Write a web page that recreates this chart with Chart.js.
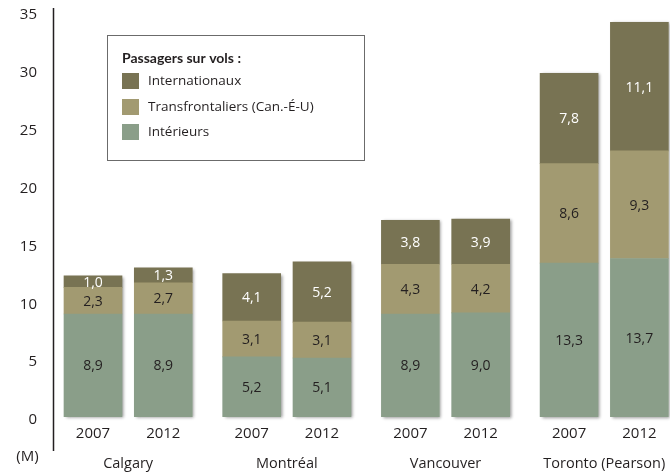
<!DOCTYPE html>
<html lang="fr">
<head>
<meta charset="utf-8">
<title>Passagers aériens par aéroport, 2007 et 2012</title>
<script src="https://cdn.jsdelivr.net/npm/chart.js@4/dist/chart.umd.min.js"></script>
<style>
  html, body { margin: 0; padding: 0; background: #ffffff; }
  #wrap { width: 670px; height: 474px; position: relative; }
</style>
</head>
<body>
<div id="wrap"><canvas id="chart" width="670" height="474"></canvas></div>
<script>
// Aéroports et années
const cities = ['Calgary', 'Montréal', 'Vancouver', 'Toronto (Pearson)'];
const years = ['2007', '2012'];

// Passagers (millions), une valeur par barre : ville × année
const interieurs       = [8.9, 8.9, 5.2, 5.1, 8.9, 9.0, 13.3, 13.7];
const transfrontaliers = [2.3, 2.7, 3.1, 3.1, 4.3, 4.2, 8.6, 9.3];
const internationaux   = [1.0, 1.3, 4.1, 5.2, 3.8, 3.9, 7.8, 11.1];

// Séries, de bas en haut de la pile
const seriesLabels = ['Intérieurs', 'Transfrontaliers (Can.-É-U)', 'Internationaux'];
const seriesValues = [interieurs, transfrontaliers, internationaux];
const seriesColors = ['#8a9e89', '#a29a71', '#787353'];
const seriesText   = ['#231f20', '#231f20', '#ffffff'];

const legendTitle = 'Passagers sur vols :';
const unitLabel = '(M)';

const FONT = '"Open Sans", "Noto Sans", sans-serif';
const INK = '#231f20';

// Position horizontale d'une barre : groupe (ville) et rang dans le groupe (année)
const GROUP_STEP = 2.2575;
const barPos = i => Math.floor(i / years.length) * GROUP_STEP + (i % years.length);

const datasets = seriesLabels.map((label, s) => ({
  label,
  data: seriesValues[s].map((v, i) => ({ x: barPos(i), y: v })),
  backgroundColor: seriesColors[s],
  borderWidth: 0,
  barThickness: 58
}));

const fmt = v => v.toFixed(1).replace('.', ',');

// Ombre portée sous chaque pile
const shadowPlugin = {
  id: 'stackShadow',
  beforeDatasetsDraw(chart) {
    const ctx = chart.ctx;
    const metas = chart.getSortedVisibleDatasetMetas();
    const n = metas[0].data.length;
    ctx.save();
    ctx.shadowColor = 'rgba(0,0,0,0.4)';
    ctx.shadowBlur = 3;
    ctx.shadowOffsetX = 2;
    ctx.shadowOffsetY = 1;
    ctx.fillStyle = '#ffffff';
    for (let i = 0; i < n; i++) {
      const base = metas[0].data[i];
      const top = metas[metas.length - 1].data[i];
      const w = base.width;
      ctx.fillRect(base.x - w / 2, top.y, w, base.base - top.y);
    }
    ctx.restore();
  }
};

// Valeurs dans les segments, étiquettes d'années et de villes, axe vertical, légende
const annotatePlugin = {
  id: 'annotate',
  afterDatasetsDraw(chart) {
    const ctx = chart.ctx;
    const xs = chart.scales.x;
    ctx.save();
    ctx.textAlign = 'center';
    ctx.textBaseline = 'middle';
    ctx.font = '14px ' + FONT;
    chart.getSortedVisibleDatasetMetas().forEach(meta => {
      const s = meta.index;
      meta.data.forEach((el, i) => {
        ctx.fillStyle = seriesText[s];
        ctx.fillText(fmt(seriesValues[s][i]), el.x, (el.y + el.base) / 2 + 1);
      });
    });

    // Années sous chaque barre
    ctx.fillStyle = INK;
    ctx.font = '15px ' + FONT;
    interieurs.forEach((_, i) => {
      ctx.fillText(years[i % years.length], xs.getPixelForValue(barPos(i)), 434);
    });
    // Villes sous chaque paire
    ctx.font = '14.5px ' + FONT;
    cities.forEach((c, g) => {
      const a = xs.getPixelForValue(barPos(g * years.length));
      const b = xs.getPixelForValue(barPos(g * years.length + years.length - 1));
      ctx.fillText(c, (a + b) / 2, 464);
    });
    // Unité
    ctx.font = '15px ' + FONT;
    ctx.fillText(unitLabel, 27.5, 457);

    // Axe vertical
    const ax = chart.chartArea.left + 0.5;
    ctx.strokeStyle = INK;
    ctx.lineWidth = 1.5;
    ctx.beginPath();
    ctx.moveTo(ax, 8);
    ctx.lineTo(ax, 451);
    ctx.stroke();

    // Légende encadrée
    ctx.lineWidth = 1;
    ctx.strokeStyle = '#6b6b6b';
    ctx.strokeRect(107.5, 35.5, 257, 125);
    ctx.textAlign = 'left';
    ctx.font = 'bold 14px Lato, ' + FONT;
    ctx.fillStyle = INK;
    ctx.fillText(legendTitle, 122, 58, 130);
    ctx.font = '13.5px ' + FONT;
    const order = [2, 1, 0];
    const rowY = [81, 107, 132];
    order.forEach((s, r) => {
      ctx.fillStyle = seriesColors[s];
      ctx.fillRect(122, rowY[r] - 8, 17, 16);
      ctx.fillStyle = INK;
      ctx.fillText(seriesLabels[s], 148, rowY[r]);
    });
    ctx.restore();
  }
};

new Chart(document.getElementById('chart'), {
  type: 'bar',
  data: { datasets },
  options: {
    responsive: false,
    animation: false,
    events: [],
    layout: { padding: { top: 12, bottom: 57, left: 0, right: 0 } },
    plugins: { legend: { display: false }, tooltip: { enabled: false } },
    scales: {
      x: {
        type: 'linear',
        stacked: true,
        display: false,
        offset: false,
        min: -0.569,
        max: 8.208
      },
      y: {
        stacked: true,
        min: 0,
        max: 35,
        border: { display: false },
        grid: { display: false, drawTicks: false },
        ticks: {
          stepSize: 5,
          padding: 16,
          labelOffset: 3,
          color: INK,
          font: { family: FONT, size: 15 }
        },
        afterFit(scale) {
          scale.width = 53;
          scale.paddingTop = 0;
          scale.paddingBottom = 0;
        }
      }
    }
  },
  plugins: [shadowPlugin, annotatePlugin]
});
</script>
</body>
</html>
